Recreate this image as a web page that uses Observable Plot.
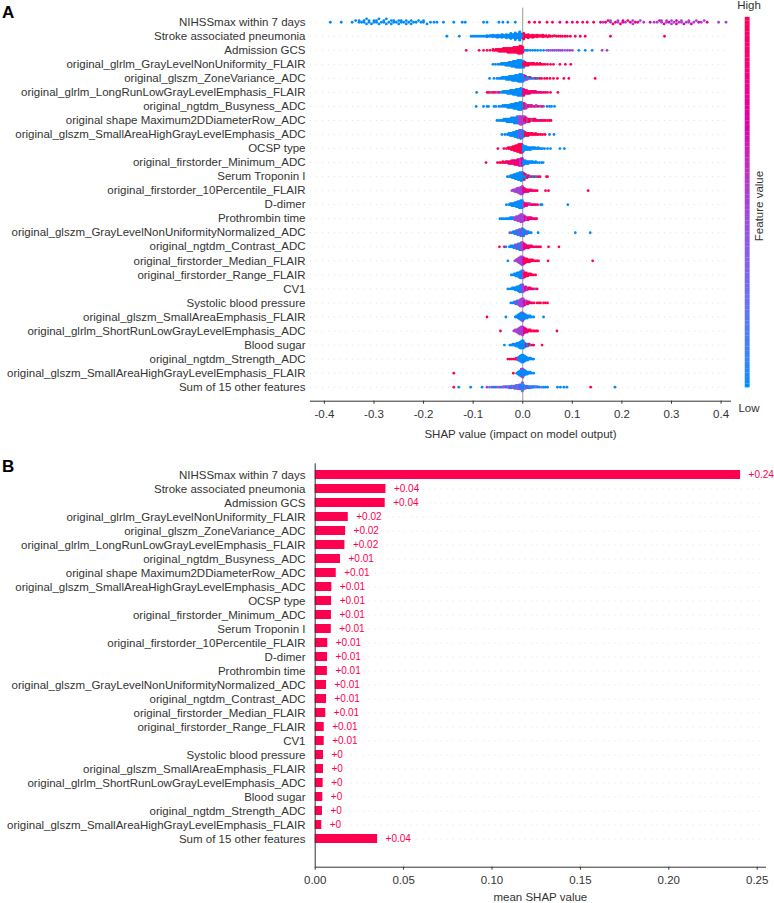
<!DOCTYPE html>
<html><head><meta charset="utf-8">
<script src="https://cdn.jsdelivr.net/npm/d3@7"></script>
<script src="https://cdn.jsdelivr.net/npm/@observablehq/plot@0.6"></script>
<style>
body{margin:0;background:#fff}
#wrap{position:relative;width:774px;height:903px;font-family:"Liberation Sans",Arial,sans-serif;color:#333;overflow:hidden}
.abs{position:absolute;white-space:nowrap;line-height:1}
</style></head><body>
<div id="wrap">
 <div id="panelA" class="abs" style="left:0;top:0"></div>
 <div id="cbar" class="abs" style="left:735px;top:0"></div>
 <div id="panelB" class="abs" style="left:0;top:445px"></div>
 <div class="abs" style="left:2px;top:4px;font-weight:bold;font-size:17px;color:#000">A</div>
 <div class="abs" style="left:2px;top:458px;font-weight:bold;font-size:17px;color:#000">B</div>
 <div class="abs" style="left:749px;top:6px;transform:translate(-50%,-50%);font-size:11.5px">High</div>
 <div class="abs" style="left:749px;top:409px;transform:translate(-50%,-50%);font-size:11.5px">Low</div>
 <div class="abs" style="left:760px;top:206px;transform:translate(-50%,-50%) rotate(-90deg);font-size:11.5px">Feature value</div>
</div>
<script>
// ---------------- data ----------------
const features = [
  "NIHSSmax within 7 days",
  "Stroke associated pneumonia",
  "Admission GCS",
  "original_glrlm_GrayLevelNonUniformity_FLAIR",
  "original_glszm_ZoneVariance_ADC",
  "original_glrlm_LongRunLowGrayLevelEmphasis_FLAIR",
  "original_ngtdm_Busyness_ADC",
  "original shape Maximum2DDiameterRow_ADC",
  "original_glszm_SmallAreaHighGrayLevelEmphasis_ADC",
  "OCSP type",
  "original_firstorder_Minimum_ADC",
  "Serum Troponin I",
  "original_firstorder_10Percentile_FLAIR",
  "D-dimer",
  "Prothrombin time",
  "original_glszm_GrayLevelNonUniformityNormalized_ADC",
  "original_ngtdm_Contrast_ADC",
  "original_firstorder_Median_FLAIR",
  "original_firstorder_Range_FLAIR",
  "CV1",
  "Systolic blood pressure",
  "original_glszm_SmallAreaEmphasis_FLAIR",
  "original_glrlm_ShortRunLowGrayLevelEmphasis_ADC",
  "Blood sugar",
  "original_ngtdm_Strength_ADC",
  "original_glszm_SmallAreaHighGrayLevelEmphasis_FLAIR",
  "Sum of 15 other features"
];

const meanShap = [0.2406, 0.0400, 0.0396, 0.0187, 0.0172, 0.0168, 0.0143, 0.0119, 0.0094,
  0.0093, 0.0092, 0.0091, 0.0071, 0.0070, 0.0069, 0.0064, 0.0064, 0.0060, 0.0051, 0.0051,
  0.0047, 0.0047, 0.0045, 0.0043, 0.0041, 0.0037, 0.0353];

const barLabels = ["+0.24", "+0.04", "+0.04", "+0.02", "+0.02", "+0.02", "+0.01", "+0.01", "+0.01",
  "+0.01", "+0.01", "+0.01", "+0.01", "+0.01", "+0.01", "+0.01", "+0.01", "+0.01", "+0.01", "+0.01",
  "+0", "+0", "+0", "+0", "+0", "+0", "+0.04"];

const xTicksA = [-0.4, -0.3, -0.2, -0.1, 0, 0.1, 0.2, 0.3, 0.4];
const xTicksB = [0, 0.05, 0.10, 0.15, 0.20, 0.25];

// feature-value codes: b low, i, v mid, m, r high
const featureLevel = {b: 0, i: 0.3, v: 0.5, m: 0.72, r: 1};

// SHAP values per feature: value[*count]level
const swarmRows = [
 "-0.388b -0.366b -0.344b -0.337b -0.33*2b -0.325b -0.32*2b -0.315*2b -0.31*2b -0.305b -0.3*2b -0.295*2b -0.29*2b -0.285b -0.28*2b -0.275*2b -0.27b -0.265*2b -0.26*2b -0.255b -0.25*2b -0.245*2b -0.24b -0.235*2b -0.23b -0.225*2b -0.22b -0.215b -0.21b -0.205b -0.2*2b -0.193b -0.186b -0.179b -0.173b -0.16b -0.139b -0.122b -0.116b -0.079b -0.072b -0.048b -0.04b -0.03b -0.015b 0.013r 0.024r 0.034r 0.049r 0.06r 0.075m 0.089r 0.1m 0.11r 0.121m 0.13r 0.143r 0.157m 0.162v 0.167r 0.172m 0.177*2v 0.182r 0.187m 0.192*2v 0.197r 0.202*2m 0.207v 0.212r 0.217m 0.222*2v 0.227r 0.232m 0.237v 0.244v 0.257m 0.265v 0.271v 0.276m 0.28*2v 0.285m 0.29*2v 0.295m 0.3*2v 0.305v 0.31*2m 0.315v 0.32*2v 0.325m 0.33v 0.335*2v 0.34m 0.345v 0.35v 0.355m 0.36v 0.366v 0.372m 0.395v 0.41v",
 "-0.153b -0.128b -0.104b -0.1b -0.096b -0.092b -0.088b -0.084b -0.08b -0.076b -0.072*2b -0.069b -0.066*2b -0.063*2b -0.06*2b -0.057*2b -0.054*3b -0.051*2b -0.048*3b -0.045*3b -0.042*3b -0.039*4b -0.036*3b -0.033*4b -0.03*4b -0.027*5b -0.024*5b -0.021*6b -0.018*6b -0.015*7b -0.012*7b -0.009*8b -0.006*8b -0.003*8b 0*6b 0.002*5r 0.005*4r 0.008*4r 0.011*3r 0.014*3r 0.017*3r 0.02*2r 0.023*3r 0.026*2r 0.029*2r 0.032*2r 0.035*2r 0.038*2r 0.041*2r 0.044r 0.047*2r 0.05r 0.053*2r 0.056r 0.06r 0.064r 0.068r 0.072r 0.076r 0.08r 0.085r 0.09r 0.096r 0.106r 0.116r 0.126r 0.177r 0.286r",
 "-0.114r -0.088r -0.079r -0.072r -0.066r -0.06*2r -0.057r -0.054*2r -0.051*2r -0.048*3r -0.045*3r -0.042*3r -0.039*4r -0.036*4r -0.033*4r -0.03*5r -0.027*5r -0.024*5r -0.021*5r -0.018*6r -0.015*6r -0.012*6r -0.009*7r -0.006*8r -0.003*8r 0*6r 0.004b 0.007b 0.01b 0.015b 0.02b 0.025b 0.03b 0.036b 0.042b 0.048i 0.052v 0.056i 0.06v 0.064v 0.068i 0.072v 0.076v 0.08v 0.085i 0.09v 0.095v 0.1v 0.113b 0.126b 0.14b 0.16v 0.17v",
 "-0.06b -0.055b -0.05b -0.046b -0.043*2b -0.04*2b -0.037*2b -0.034*3b -0.031*3b -0.028*4b -0.025*4b -0.022*5b -0.019*6b -0.016*6b -0.013*7b -0.01*8b -0.007*8b -0.004*8b -0.001*7b 0.002*5r 0.002*2b 0.005*4r 0.008*3r 0.011*3r 0.014*2r 0.017*2r 0.02*2r 0.023*2r 0.026r 0.029*2r 0.032r 0.035*2r 0.038r 0.041r 0.045r 0.05r 0.056r 0.062r 0.075r 0.086r 0.097r",
 "-0.067b -0.058b -0.052b -0.048b -0.045b -0.042*2b -0.039*2b -0.036*2b -0.033*3b -0.03*3b -0.027*4b -0.024*4b -0.021*5b -0.018*5b -0.015*6b -0.012*6b -0.009*7b -0.006*8b -0.003*8b 0*7b 0.003*4b 0.003*2v 0.006*3b 0.006r 0.009*2b 0.009v 0.012*2b 0.015b 0.015r 0.018b 0.021v 0.024b 0.027r 0.03b 0.034r 0.038r 0.044r 0.049r 0.055r 0.062r 0.07r 0.083r 0.093r 0.146r",
 "-0.093b -0.072r -0.068r -0.064v -0.06r -0.056r -0.052v -0.048r -0.044b -0.04*2b -0.037*2b -0.034*2b -0.031*3b -0.028*3b -0.025*4b -0.022*4b -0.019*5b -0.016*5b -0.013*6b -0.01*7b -0.007*7b -0.004*8b -0.001*7b 0.002*5m 0.002*2r 0.005*4m 0.008*4r 0.011*3m 0.014*3r 0.017*2m 0.02*2r 0.023*2m 0.026*2r 0.029m 0.032r 0.035m 0.038r 0.042m 0.046r 0.05m 0.056r 0.071r",
 "-0.094b -0.079b -0.072b -0.069b -0.058b -0.054b -0.048b -0.044b -0.04*2b -0.036*2b -0.033*2b -0.03*3b -0.027*3b -0.024*4b -0.021*4b -0.018*5b -0.015*6b -0.012*6b -0.009*7b -0.006*8b -0.003*8b 0*6b 0.003*3v 0.003*3r 0.006*3r 0.006*2v 0.009*3v 0.012*2r 0.015*2v 0.018*2r 0.021v 0.024r 0.027*2v 0.031r 0.035v 0.039r 0.042v 0.049b 0.054b 0.058b 0.064b",
 "-0.052b -0.048b -0.044b -0.041b -0.038*2b -0.035*2b -0.032*3b -0.029*3b -0.026*3b -0.023*4b -0.02*4b -0.017*5b -0.014*5b -0.011*6b -0.008*6v -0.005*7v -0.002*7v 0.001*6v 0.004*4r 0.004*2v 0.007*4r 0.01*3v 0.013*3r 0.016*2r 0.019*2v 0.022*2r 0.025*2r 0.028r 0.031m 0.034r 0.037r 0.04m 0.043r 0.046r 0.05r 0.054r 0.057r",
 "-0.042b -0.036b -0.031b -0.028*2b -0.025*3b -0.022*3b -0.019*4b -0.016*5b -0.013*6b -0.01*7b -0.007*8v -0.004*9b -0.001*8v 0.002*6b 0.005*4r 0.008*3r 0.011*3r 0.014*2r 0.017*2r 0.02*2r 0.023r 0.026*2r 0.029r 0.032r 0.036r 0.04r 0.045r 0.054b 0.063b",
 "-0.05r -0.038r -0.033r -0.029*2r -0.026*2r -0.023*3r -0.02*4r -0.017*5r -0.014*6r -0.011*7r -0.008*8r -0.005*9r -0.002*9r 0.001*7b 0.004*4b 0.007*4b 0.01*3b 0.013*3b 0.016*3b 0.019*2b 0.022*2b 0.025*2b 0.028b 0.031*2b 0.034b 0.037b 0.04b 0.044b 0.05b 0.056b 0.075b 0.084b",
 "-0.074r -0.051r -0.047r -0.044r -0.04*2r -0.037r -0.034*2r -0.031*2m -0.028*3r -0.025*3m -0.022*4r -0.019*4m -0.016*5r -0.013*5m -0.01*6r -0.007*7m -0.004*8v -0.001*8m 0.002*5b 0.005*4b 0.008*3b 0.011*3b 0.014*2b 0.017*2b 0.02*2b 0.023b 0.026*2b 0.03b 0.034b 0.038b 0.041b",
 "-0.031b -0.027b -0.024*2b -0.021*3b -0.018*4b -0.015*5b -0.012*6b -0.009*7b -0.006*8b -0.003*9b 0*8b 0.003*5b 0.003*2r 0.006*3b 0.006r 0.009*2b 0.009r 0.012*2r 0.015b 0.018r 0.021b 0.024r 0.027b 0.031r 0.035r 0.048r 0.05r",
 "-0.022v -0.019*2v -0.016*3v -0.013*4v -0.01*6v -0.007*7v -0.004*9v -0.001*10v 0.002*6m 0.005*4r 0.008*3m 0.011*3r 0.014*2m 0.017*2r 0.02r 0.023m 0.026r 0.029r 0.046r 0.052r 0.132r",
 "-0.033b -0.028b -0.025*2b -0.022*3b -0.019*3b -0.016*4b -0.013*5b -0.01*6b -0.007*7b -0.004*8b -0.001*8b 0.002*5v 0.005*3r 0.008*3m 0.011*2r 0.014*2v 0.017r 0.02r 0.023m 0.026r 0.03r 0.036b 0.039b 0.091b",
 "-0.046b -0.042b -0.038b -0.034b -0.031b -0.028b -0.025*2b -0.022*2b -0.019*2b -0.016*3v -0.013*4v -0.01*5v -0.007*6v -0.004*8v -0.001*8v 0.002*6v 0.005*4m 0.008*3v 0.011*3r 0.014*2m 0.017*2r 0.02r 0.023m 0.026r 0.028r",
 "-0.026v -0.022b -0.019*2b -0.016*3b -0.013*4v -0.01*5b -0.007*6v -0.004*7b -0.001*8v 0.002*7b 0.005*4b 0.008*3v 0.011*2b 0.014b 0.017b 0.031b 0.106b 0.136b",
 "-0.047r -0.037r -0.034b -0.027b -0.024*2b -0.021*2b -0.018*3b -0.015*4v -0.012*5b -0.009*6v -0.006*7b -0.003*8v 0*8v 0.003*6m 0.006*4r 0.009*3m 0.012*3r 0.015*2r 0.018*2m 0.021r 0.024r 0.027r 0.03m 0.033r 0.036r 0.052r 0.073r",
 "-0.03b -0.016v -0.013*2v -0.01*4v -0.007*6v -0.004*8v -0.001*9v 0.002*7m 0.005*5r 0.008*4r 0.011*3r 0.014*3r 0.017*2r 0.02*2r 0.023r 0.026r 0.029r 0.032r 0.051r 0.141r",
 "-0.023b -0.02b -0.017*2b -0.014*3b -0.011*4b -0.008*5b -0.005*7b -0.002*8b 0.001*8v 0.004*5r 0.007*4r 0.01*3r 0.013*2r 0.016*2r 0.019r 0.022r 0.026r",
 "-0.03b -0.025b -0.021*2b -0.018*2b -0.015*3b -0.012*4b -0.009*5b -0.006*7b -0.003*8b 0*8v 0.003*5v 0.006*4m 0.009*3v 0.012*2r 0.015*2m 0.018r 0.021r 0.025v 0.029r",
 "-0.024b -0.02b -0.017*2b -0.014*3v -0.011*4b -0.008*5v -0.005*7v -0.002*8v 0.001*8v 0.004*5m 0.007*4v 0.01*3r 0.013*2m 0.016r 0.019r 0.023r 0.029r 0.033r 0.036r 0.042r 0.046r 0.05r",
 "-0.072r -0.034b -0.015b -0.012*2b -0.009*4b -0.006*6b -0.003*8b 0*6b 0*3v 0.003*6b 0.006*4b 0.009*3b 0.012*2b 0.015*2b 0.018b 0.022b 0.042b",
 "-0.045r -0.018v -0.015*2v -0.012*3v -0.009*5v -0.006*7v -0.003*8v 0*9v 0.003*6m 0.006*4r 0.009*3m 0.012*2r 0.015*2r 0.018r 0.021m 0.024r 0.027r 0.03r 0.069r",
 "-0.037b -0.026b -0.023b -0.02*2b -0.017*2b -0.014*3b -0.011*4b -0.008*5b -0.005*7b -0.002*8b 0.001*8b 0.004*5b 0.007*3r 0.01*3b 0.013*2r 0.016b 0.019r 0.022r 0.039r",
 "-0.03r -0.026r -0.022r -0.018r -0.015r -0.013*2r -0.01*3v -0.008*4b -0.005*6b -0.002*8b 0.001*8b 0.004*6b 0.007*4b 0.01*3b 0.013*2b 0.016*2b 0.019b 0.022b",
 "-0.139r -0.019r -0.012b -0.009*3b -0.006*5b -0.003*6b -0.003*2v 0*7b 0*2v 0.003*6b 0.006*4b 0.009*3b 0.012*2b 0.015*2b 0.018b 0.022b",
 "-0.139r -0.129b -0.105b -0.082b -0.072v -0.067i -0.062b -0.058v -0.054b -0.05i -0.046v -0.042b -0.039*2i -0.035*2v -0.031*2b -0.028*3i -0.025*3v -0.022*4b -0.019*4i -0.016*5v -0.013*6b -0.01*7i -0.007*8v -0.004*8b -0.001*8i 0.002*7b 0.005*5i 0.008*4b 0.011*3v 0.014*3b 0.017*3i 0.02*2b 0.023*2b 0.026*2i 0.03*2b 0.034b 0.038i 0.042b 0.046b 0.05b 0.07b 0.076b 0.083b 0.089b 0.137r 0.186b"
];

// ---------------- build ----------------
const BLUE = "#008bfb", MID = "#a542d2", RED = "#ff0051";
const colorScale = {type: "linear", domain: [0, 0.5, 1], range: [BLUE, MID, RED], interpolate: "hcl"};

function parseRow(str) {
  const pts = [];
  for (const tok of str.trim().split(/\s+/)) {
    const m = tok.match(/^(-?\d*\.?\d+)(?:\*(\d+))?([bivmr])$/);
    const n = m[2] ? +m[2] : 1;
    for (let k = 0; k < n; k++) pts.push({v: +m[1], c: featureLevel[m[3]]});
  }
  return pts;
}

// SHAP-style beeswarm stacking (deterministic)
const points = [];
swarmRows.forEach((str, i) => {
  const pts = parseRow(str);
  const vs = pts.map(p => p.v);
  const lo = d3.min(vs), hi = d3.max(vs);
  const quant = vs.map(v => Math.round(100 * (v - lo) / (hi - lo + 1e-8)));
  const order = d3.range(pts.length).sort((a, b) => quant[a] - quant[b]);
  const ys = new Array(pts.length).fill(0);
  let layer = 0, last = -1;
  for (const k of order) {
    if (quant[k] !== last) layer = 0;
    ys[k] = Math.ceil(layer / 2) * ((layer % 2) * 2 - 1);
    layer++; last = quant[k];
  }
  const mx = d3.max(ys) + 1;
  pts.forEach((p, k) => points.push({row: i, v: p.v, c: p.c, y: i - ys[k] * 0.9 * 0.4 / mx}));
});

const font = {fontFamily: "'Liberation Sans', Arial, sans-serif", fontSize: "11.5px", color: "#333", background: "transparent"};
const hyphen = f => d => f(d).replace("\u2212", "-");

const plotA = Plot.plot({
  width: 774, height: 445,
  marginLeft: 310, marginRight: 44, marginTop: 7.7, marginBottom: 44.3,
  style: font,
  x: {domain: [-0.428, 0.419], ticks: xTicksA, tickFormat: hyphen(d3.format(".1f")), tickSize: 3, line: true,
      label: "SHAP value (impact on model output)", labelAnchor: "center", labelOffset: 37, labelArrow: "none"},
  y: {domain: [27, -1], ticks: features.map((f, i) => i), tickFormat: i => features[i], tickSize: 0, tickPadding: 5, label: null},
  color: colorScale,
  marks: [
    Plot.ruleY(features.map((f, i) => i), {y: d => d, stroke: "#cccccc", strokeWidth: 0.6, strokeDasharray: "1,5"}),
    Plot.ruleX([0], {stroke: "#999", strokeWidth: 1}),
    Plot.dot(points, {x: "v", y: "y", r: 1.4, fill: "c", stroke: "none"})
  ]
});
document.getElementById("panelA").appendChild(plotA);

const colorStops = d3.range(0, 1, 0.01);
const cbar = Plot.plot({
  width: 40, height: 420,
  marginLeft: 10, marginRight: 25, marginTop: 17.3, marginBottom: 22.7,
  style: font,
  x: {axis: null, domain: [0, 1]},
  y: {axis: null, domain: [0, 1]},
  color: colorScale,
  marks: [Plot.rect(colorStops, {x1: 0, x2: 1, y1: d => d, y2: d => Math.min(1, d + 0.0105), fill: d => d})]
});
document.getElementById("cbar").appendChild(cbar);

const bars = features.map((f, i) => ({feature: f, value: meanShap[i], label: barLabels[i]}));
const plotB = Plot.plot({
  width: 774, height: 458,
  marginLeft: 314.7, marginRight: 9, marginTop: 18.3, marginBottom: 36.3,
  style: font,
  x: {domain: [0, 0.2547], ticks: xTicksB, tickFormat: d3.format(".2f"), tickSize: 3, line: true,
      label: "mean SHAP value", labelAnchor: "center", labelOffset: 34, labelArrow: "none"},
  y: {domain: features, range: [20.6, 403.1], paddingInner: 0.33, paddingOuter: 0.165, tickSize: 0, tickPadding: 9.7, label: null},
  marks: [
    Plot.ruleY(bars, {y: "feature", stroke: "#cccccc", strokeWidth: 0.6, strokeDasharray: "1,5"}),
    Plot.barX(bars, {x: "value", y: "feature", fill: RED}),
    Plot.text(bars, {x: "value", y: "feature", text: "label", dx: 8, textAnchor: "start", fill: RED,
                     stroke: "white", strokeWidth: 3, paintOrder: "stroke", fontSize: 10}),
    Plot.ruleX([0], {stroke: "#333", strokeWidth: 1})
  ]
});
document.getElementById("panelB").appendChild(plotB);
</script>
</body></html>
